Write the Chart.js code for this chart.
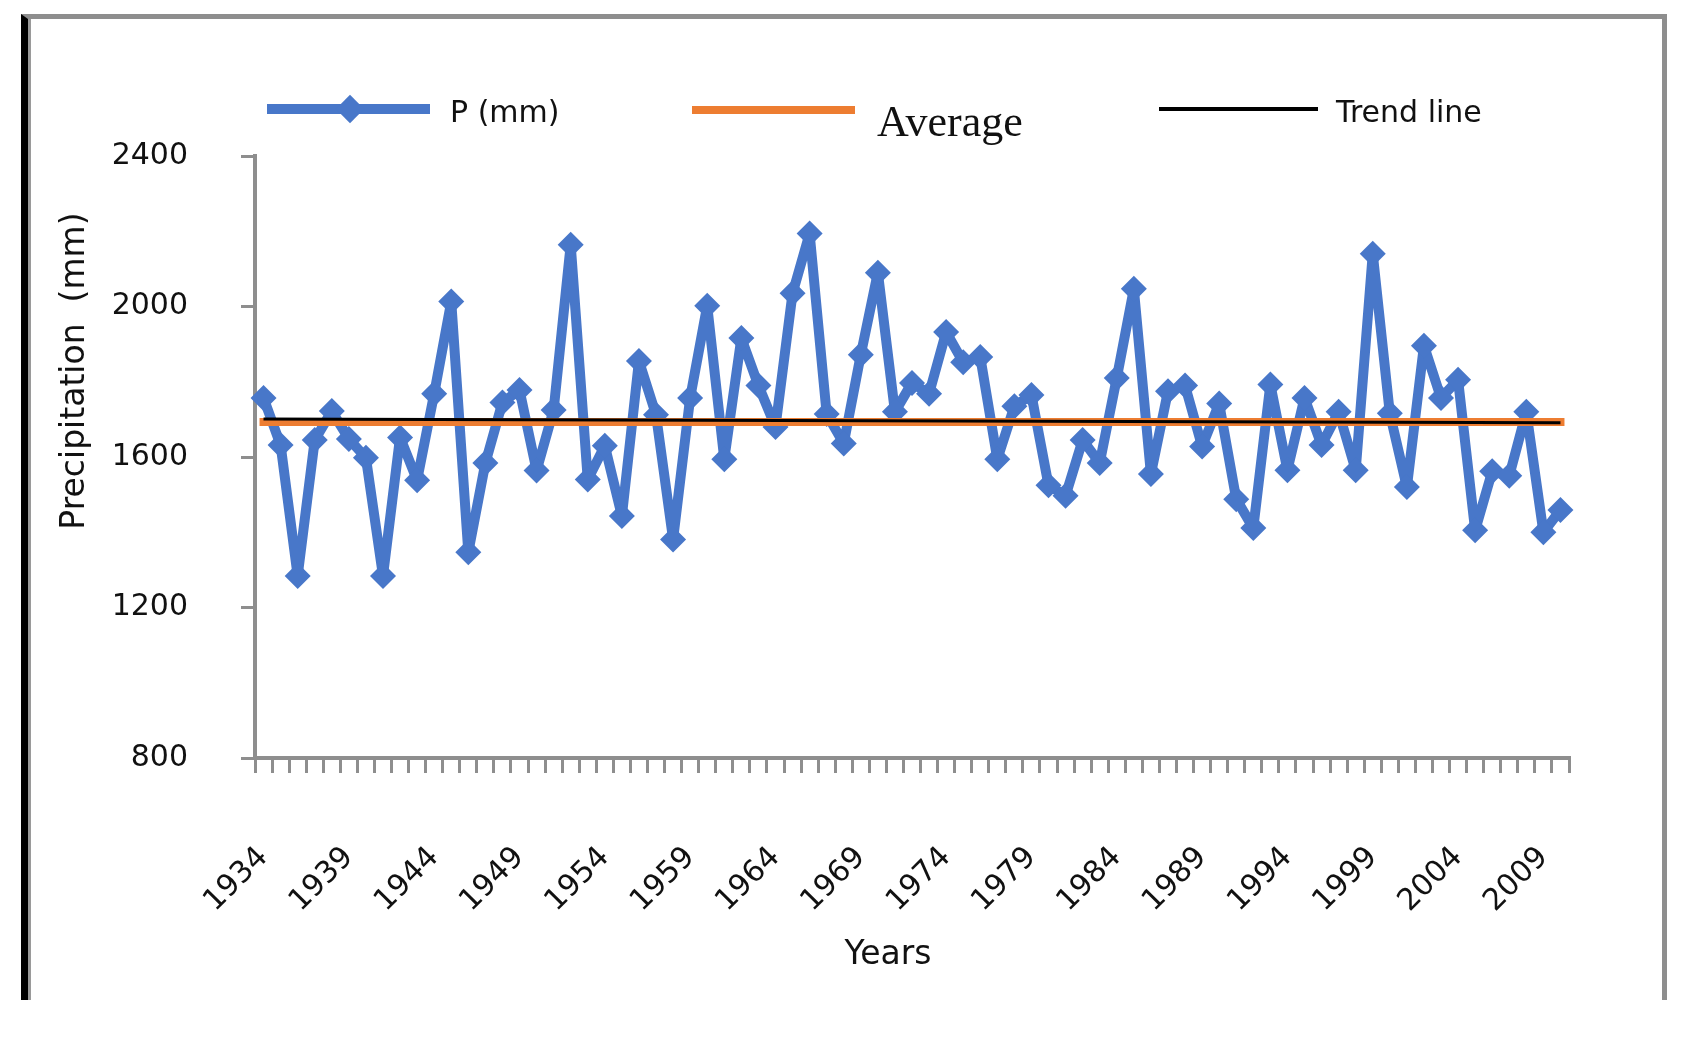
<!DOCTYPE html>
<html>
<head>
<meta charset="utf-8">
<title>Precipitation</title>
<script src="https://cdn.jsdelivr.net/npm/chart.js@4/dist/chart.umd.min.js"></script>
<style>
  body { margin: 0; background: #fff; }
  #wrap { position: relative; width: 1689px; height: 1045px; overflow: hidden; }
  #chart { position: absolute; left: 0; top: 0; }
  .frame {
    position: absolute; left: 21px; top: 14px; width: 1634px; height: 981px;
    border-top: 5px solid #8e8e8e; border-right: 5px solid #8e8e8e;
    border-left: 7px solid #000; box-shadow: inset 3px 0 0 #9a9a9a;
  }
  .lg { position: absolute; font-family: "DejaVu Sans", sans-serif; font-size: 30px; color: #111; line-height: 1; white-space: pre; }
  .sw { position: absolute; }
</style>
</head>
<body>
<div id="wrap">
  <canvas id="chart" width="1689" height="1045"></canvas>
  <div class="frame"></div>
  <div class="sw" style="left:267px;top:104px;width:163px;height:10px;background:#4877c9"></div>
  <div class="sw" style="left:340px;top:99px;width:20px;height:20px;background:#4877c9;transform:rotate(45deg)"></div>
  <div class="lg" style="left:450px;top:97px">P (mm)</div>
  <div class="sw" style="left:692px;top:106px;width:163px;height:8px;background:#ED7D31"></div>
  <div class="lg" style="left:877px;top:100px;font-family:'Liberation Serif',serif;font-size:44px">Average</div>
  <div class="sw" style="left:1159px;top:107px;width:159px;height:4px;background:#000"></div>
  <div class="lg" style="left:1336px;top:97px">Trend line</div>
  <div class="lg" style="left:72px;top:371px;font-size:33px;transform:translate(-50%,-50%) rotate(-90deg)">Precipitation  (mm)</div>
  <div class="lg" style="left:888px;top:952px;font-size:33px;transform:translate(-50%,-50%)">Years</div>
</div>
<script>
// years on the x axis
const years = [];
for (let y = 1934; y <= 2010; y++) years.push(String(y));

// annual precipitation
const precip = [
    1757, 1632, 1284, 1645, 1722, 1648, 1598, 1284, 1652, 1538,
    1768, 2013, 1347, 1584, 1745, 1778, 1564, 1725, 2164, 1540,
    1630, 1443, 1855, 1712, 1381, 1757, 2002, 1594, 1916, 1790,
    1680, 2035, 2194, 1714, 1636, 1872, 2090, 1720, 1797, 1768,
    1932, 1852, 1866, 1594, 1735, 1765, 1525, 1497, 1645, 1584,
    1810, 2047, 1555, 1775, 1790, 1628, 1742, 1488, 1411, 1793,
    1565, 1757, 1632, 1720, 1565, 2140, 1716, 1520, 1896, 1757,
    1805, 1405, 1562, 1550, 1720, 1400, 1459
];

const averageValue = 1693;
const trendStart = 1701;
const trendEnd = 1691;

const yTicks = [800, 1200, 1600, 2000, 2400];

const axisGray = "#8e8e8e";
const tickFont = { family: "DejaVu Sans", size: 30 };

new Chart(document.getElementById("chart").getContext("2d"), {
    type: "line",
    data: {
        labels: years,
        datasets: [
            {
                label: "P (mm)",
                data: precip,
                borderColor: "#4877c9",
                backgroundColor: "#4877c9",
                borderWidth: 10,
                borderJoinStyle: "round",
                pointStyle: "rectRot",
                pointRadius: 13,
                pointBorderWidth: 0,
                tension: 0,
                order: 3,
            },
            {
                label: "Average",
                data: [{ x: years[0], y: averageValue }, { x: years[years.length - 1], y: averageValue }],
                borderColor: "#ED7D31",
                borderWidth: 8,
                pointRadius: 0,
                borderCapStyle: "square",
                order: 2,
            },
            {
                label: "Trend line",
                data: [{ x: years[0], y: trendStart }, { x: years[years.length - 1], y: trendEnd }],
                borderColor: "#000",
                borderWidth: 3,
                pointRadius: 0,
                order: 1,
            },
        ],
    },
    options: {
        responsive: false,
        animation: false,
        devicePixelRatio: 1,
        layout: { padding: { left: 0, top: 156, right: 120, bottom: 0 } },
        plugins: { legend: { display: false }, tooltip: { enabled: false } },
        scales: {
            x: {
                type: "category",
                offset: true,
                grid: { offset: true, drawOnChartArea: false, tickLength: 15, color: axisGray, lineWidth: 3 },
                border: { color: axisGray, width: 4 },
                ticks: {
                    autoSkip: false,
                    minRotation: 45,
                    maxRotation: 45,
                    padding: 67,
                    color: "#111",
                    font: tickFont,
                    callback: function (v, i) {
                        return i % 5 === 0 ? years[i] : "";
                    },
                },
                afterFit: function (scale) {
                    scale.height = 287;
                },
            },
            y: {
                min: 800,
                max: 2400,
                grid: { drawOnChartArea: false, tickLength: 14, color: axisGray, lineWidth: 3 },
                border: { color: axisGray, width: 4 },
                afterBuildTicks: function (scale) {
                    scale.ticks = yTicks.map(function (v) { return { value: v }; });
                },
                ticks: {
                    padding: 53,
                    color: "#111",
                    font: tickFont,
                    callback: function (v) { return String(v); },
                },
                afterFit: function (scale) {
                    scale.width = 255;
                },
            },
        },
    },
});
</script>
</body>
</html>
